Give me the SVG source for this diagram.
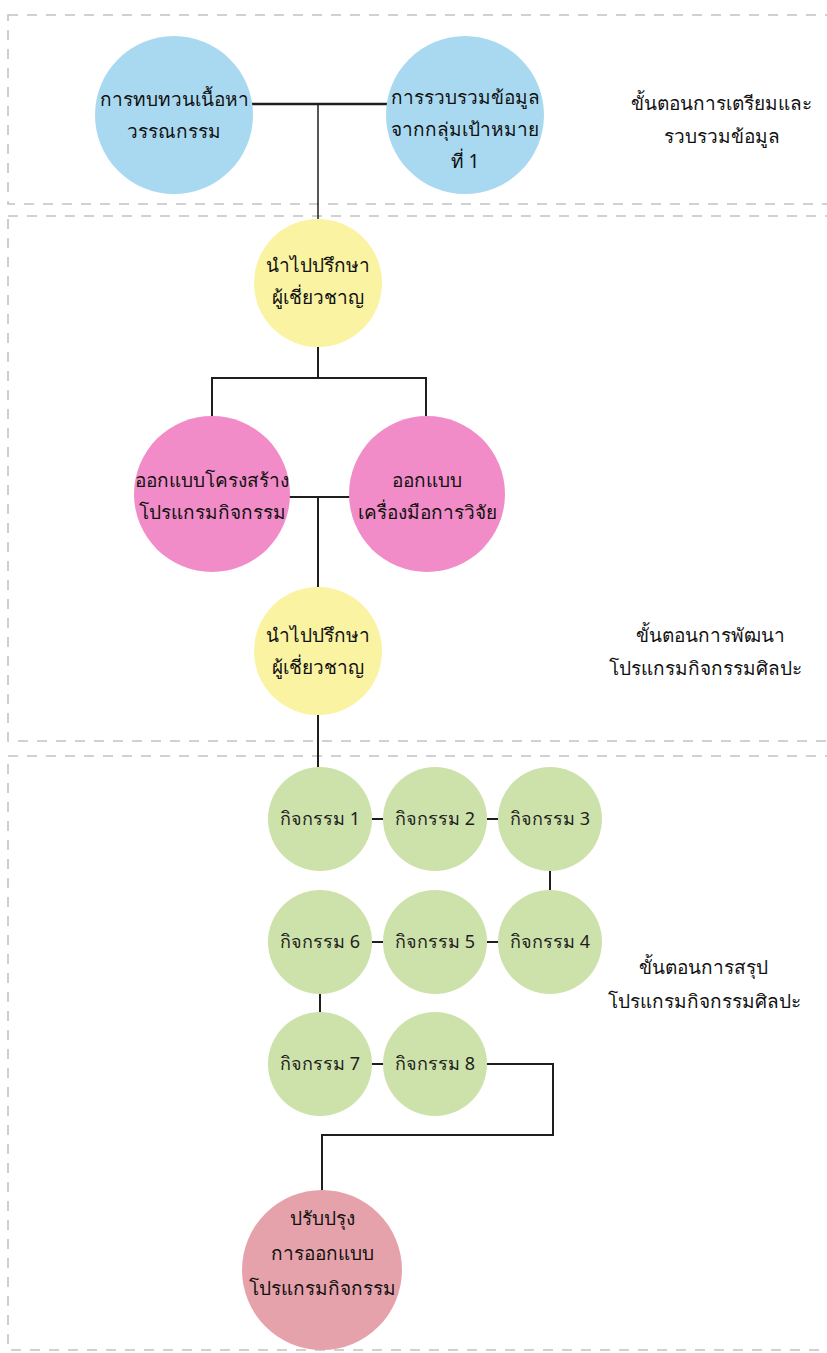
<svg xmlns="http://www.w3.org/2000/svg" width="827" height="1353" viewBox="0 0 827 1353">
  <style>
    .sec { fill: none; stroke: #c2c2c2; stroke-width: 1.6; stroke-dasharray: 10 9; }
    .link { fill: none; stroke: #1e1e1e; stroke-width: 2; }
    .thin { stroke-width: 1.5; }
    .thick { stroke-width: 2.6; }
    text { font-family: "Noto Sans", "DejaVu Sans", sans-serif; fill: #111; text-anchor: middle; }
    .t { font-size: 19px; }
    .g { font-size: 18px; fill: #1d1d1d; }
    .lbl { font-size: 19px; }
    .blue { fill: #a9d9f0; }
    .yellow { fill: #faf3a2; }
    .pink { fill: #f18cc8; }
    .green { fill: #cde2ab; }
    .rose { fill: #e6a2ab; }
  </style>

  <!-- stage frames -->
  <g id="stages">
    <rect class="sec" x="8" y="15" width="840" height="189"/>
    <rect class="sec" x="8" y="216" width="840" height="525"/>
    <rect class="sec" x="8" y="756" width="840" height="594"/>
  </g>

  <!-- stage labels -->
  <g id="stage-labels">
    <text class="lbl" x="721" y="110">ขั้นตอนการเตรียมและ</text>
    <text class="lbl" x="722" y="143">รวบรวมข้อมูล</text>
    <text class="lbl" x="710" y="642">ขั้นตอนการพัฒนา</text>
    <text class="lbl" x="705" y="675">โปรแกรมกิจกรรมศิลปะ</text>
    <text class="lbl" x="703" y="974">ขั้นตอนการสรุป</text>
    <text class="lbl" x="704" y="1008">โปรแกรมกิจกรรมศิลปะ</text>
  </g>

  <!-- connectors -->
  <g id="connectors">
    <line class="link thick" x1="250" y1="104" x2="388" y2="104"/>
    <line class="link thin" x1="318" y1="104" x2="318" y2="219"/>
    <line class="link" x1="318" y1="346" x2="318" y2="378"/>
    <polyline class="link" points="212,416 212,378 426,378 426,416"/>
    <line class="link" x1="289" y1="497" x2="350" y2="497"/>
    <line class="link" x1="318" y1="497" x2="318" y2="588"/>
    <line class="link" x1="318" y1="715" x2="318" y2="767"/>
    <line class="link" x1="372" y1="819" x2="383" y2="819"/>
    <line class="link" x1="487" y1="819" x2="498" y2="819"/>
    <line class="link" x1="550" y1="871" x2="550" y2="890"/>
    <line class="link" x1="498" y1="942" x2="487" y2="942"/>
    <line class="link" x1="383" y1="942" x2="372" y2="942"/>
    <line class="link" x1="320" y1="994" x2="320" y2="1012"/>
    <line class="link" x1="372" y1="1064" x2="383" y2="1064"/>
    <polyline class="link" points="487,1064 553,1064 553,1135 322,1135 322,1190"/>
  </g>

  <g id="n-review">
    <circle class="blue" cx="174" cy="115" r="79"/>
    <text class="t" x="174" y="106">การทบทวนเนื้อหา</text>
    <text class="t" x="174" y="138">วรรณกรรม</text>
  </g>
  <g id="n-collect">
    <circle class="blue" cx="465" cy="115" r="79"/>
    <text class="t" x="465" y="104">การรวบรวมข้อมูล</text>
    <text class="t" x="465" y="136">จากกลุ่มเป้าหมาย</text>
    <text class="t" x="465" y="168">ที่ 1</text>
  </g>
  <g id="n-expert-1">
    <circle class="yellow" cx="318" cy="283" r="64"/>
    <text class="t" x="318" y="272">นำไปปรึกษา</text>
    <text class="t" x="318" y="304">ผู้เชี่ยวชาญ</text>
  </g>
  <g id="n-structure">
    <circle class="pink" cx="212" cy="494" r="78"/>
    <text class="t" x="212" y="487">ออกแบบโครงสร้าง</text>
    <text class="t" x="212" y="519">โปรแกรมกิจกรรม</text>
  </g>
  <g id="n-tools">
    <circle class="pink" cx="427" cy="494" r="78"/>
    <text class="t" x="427" y="487">ออกแบบ</text>
    <text class="t" x="427" y="519">เครื่องมือการวิจัย</text>
  </g>
  <g id="n-expert-2">
    <circle class="yellow" cx="318" cy="651" r="64"/>
    <text class="t" x="318" y="642">นำไปปรึกษา</text>
    <text class="t" x="318" y="674">ผู้เชี่ยวชาญ</text>
  </g>

  <g id="n-act-1"><circle class="green" cx="320" cy="819" r="52"/><text class="g" x="320" y="825">กิจกรรม 1</text></g>
  <g id="n-act-2"><circle class="green" cx="435" cy="819" r="52"/><text class="g" x="435" y="825">กิจกรรม 2</text></g>
  <g id="n-act-3"><circle class="green" cx="550" cy="819" r="52"/><text class="g" x="550" y="825">กิจกรรม 3</text></g>
  <g id="n-act-4"><circle class="green" cx="550" cy="942" r="52"/><text class="g" x="550" y="948">กิจกรรม 4</text></g>
  <g id="n-act-5"><circle class="green" cx="435" cy="942" r="52"/><text class="g" x="435" y="948">กิจกรรม 5</text></g>
  <g id="n-act-6"><circle class="green" cx="320" cy="942" r="52"/><text class="g" x="320" y="948">กิจกรรม 6</text></g>
  <g id="n-act-7"><circle class="green" cx="320" cy="1064" r="52"/><text class="g" x="320" y="1070">กิจกรรม 7</text></g>
  <g id="n-act-8"><circle class="green" cx="435" cy="1064" r="52"/><text class="g" x="435" y="1070">กิจกรรม 8</text></g>

  <g id="n-improve">
    <circle class="rose" cx="322" cy="1270" r="80"/>
    <text class="t" x="322" y="1225">ปรับปรุง</text>
    <text class="t" x="322" y="1260">การออกแบบ</text>
    <text class="t" x="322" y="1295">โปรแกรมกิจกรรม</text>
  </g>
</svg>
